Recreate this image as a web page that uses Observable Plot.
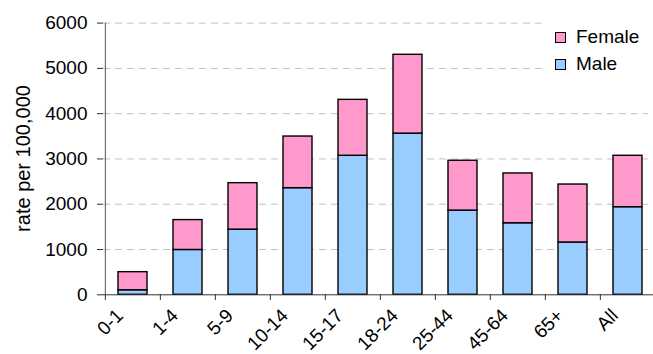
<!DOCTYPE html>
<html>
<head>
<meta charset="utf-8">
<script src="https://cdn.jsdelivr.net/npm/d3@7"></script>
<script src="https://cdn.jsdelivr.net/npm/@observablehq/plot@0.6"></script>
<style>
  body { margin: 0; background: #fff; }
  #chart { position: relative; width: 653px; height: 354px; font-family: "Liberation Sans", Arial, sans-serif; color: #000; }
  #chart svg { display: block; }
  #chart g[aria-label="y-axis label"] text { font-size: 20px; }
  .legend { position: absolute; left: 543px; top: 14px; width: 110px; height: 66px; background: #fff; }
  .legend .item { position: absolute; left: 12px; height: 20px; display: flex; align-items: center; font-size: 19px; line-height: 20px; }
  .legend .swatch { width: 9px; height: 9px; border: 1px solid #000; margin-right: 10px; }
</style>
</head>
<body>
<div id="chart"></div>
<script>
// Rates per 100,000 by age group, stacked Male (bottom) + Female (top)
const ageGroups = ["0-1", "1-4", "5-9", "10-14", "15-17", "18-24", "25-44", "45-64", "65+", "All"];
const maleRate = [100, 990, 1440, 2355, 3070, 3560, 1860, 1580, 1155, 1935];
const femaleRate = [400, 660, 1025, 1140, 1235, 1740, 1100, 1100, 1280, 1135];
const sexes = ["Male", "Female"];
const sexColors = ["#99CCFF", "#FF99CC"];
const yTicks = [0, 1000, 2000, 3000, 4000, 5000, 6000];

const rows = ageGroups.flatMap((group, i) => [
  {group, sex: "Male", rate: maleRate[i]},
  {group, sex: "Female", rate: femaleRate[i]}
]);

// horizontal extent of the category bands
const xLeft = 103, xRight = 656;
const step = (xRight - xLeft) / ageGroups.length;

const chart = Plot.plot({
  width: 653,
  height: 354,
  marginLeft: 103,
  marginRight: 0,
  marginTop: 22,
  marginBottom: 60,
  style: {fontSize: "19px", fontFamily: "'Liberation Sans', Arial, sans-serif", color: "#000", background: "#fff"},
  x: {domain: ageGroups, range: [xLeft, xRight], paddingInner: 0.48, paddingOuter: 0.24, align: 0.5, label: null},
  y: {domain: [0, 6000], range: [294.3, 22.6], label: null},
  color: {domain: sexes, range: sexColors},
  marks: [
    Plot.ruleY(yTicks.slice(1), {stroke: "#c0c0c0", strokeDasharray: "7,5", insetRight: 5}),
    Plot.barY(rows, {x: "group", y: "rate", fill: "sex", stroke: "#000", strokeWidth: 1.4}),
    Plot.ruleY([0], {stroke: "#333"}),
    Plot.ruleX([ageGroups[0]], {dx: -step / 2, y1: 0, y2: 6000, stroke: "#555"}),
    Plot.axisY({ticks: yTicks, tickSize: 6, tickPadding: 10, tickFormat: d => String(d), stroke: "#333",
      label: "rate per 100,000", labelAnchor: "center", labelOffset: 88, labelArrow: "none"}),
    Plot.axisX({ticks: ageGroups, tickSize: 6, tickFormat: () => "", dx: -step / 2, stroke: "#333", label: null}),
    Plot.axisX({ticks: ageGroups, tickSize: 0, tickPadding: 6, tickRotate: -45, dx: -13, dy: 12, label: null})
  ]
});

const root = document.getElementById("chart");
root.appendChild(chart);

// legend box drawn over the upper-right of the plot
const legend = document.createElement("div");
legend.className = "legend";
[["Female", sexColors[1], 13], ["Male", sexColors[0], 40]].forEach(([name, color, top]) => {
  const item = document.createElement("div");
  item.className = "item";
  item.style.top = top + "px";
  const sw = document.createElement("span");
  sw.className = "swatch";
  sw.style.background = color;
  item.appendChild(sw);
  item.appendChild(document.createTextNode(name));
  legend.appendChild(item);
});
root.appendChild(legend);
</script>
</body>
</html>
